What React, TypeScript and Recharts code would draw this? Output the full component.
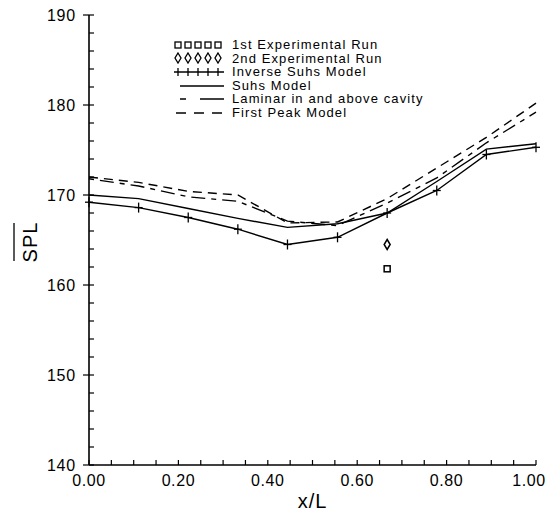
import React from 'react';
import { ComposedChart, Line, Scatter, XAxis, YAxis } from 'recharts';

// ---- data ----
const xL = [0, 0.111, 0.222, 0.333, 0.444, 0.556, 0.667, 0.778, 0.889, 1.0];
const inverseSuhs = [169.2, 168.6, 167.5, 166.2, 164.5, 165.3, 168.0, 170.5, 174.5, 175.3];
const suhs = [170.0, 169.6, 168.5, 167.4, 166.4, 166.8, 168.0, 171.5, 175.1, 175.7];
const laminar = [171.8, 171.0, 169.8, 169.3, 167.1, 166.6, 169.1, 171.9, 175.8, 179.2];
const firstPeak = [172.0, 171.4, 170.4, 170.0, 166.9, 167.0, 169.6, 173.0, 176.4, 180.2];

const expX = [0.667];
const run1 = [161.8];
const run2 = [164.5];

const xTicks = [0, 0.05, 0.1, 0.15, 0.2, 0.25, 0.3, 0.35, 0.4, 0.45, 0.5, 0.55, 0.6, 0.65, 0.7, 0.75, 0.8, 0.85, 0.9, 0.95, 1.0];
const xLabelTicks = [0, 0.2, 0.4, 0.6, 0.8, 1.0];
const yTicks = [140, 142, 144, 146, 148, 150, 152, 154, 156, 158, 160, 162, 164, 166, 168, 170, 172, 174, 176, 178, 180, 182, 184, 186, 188, 190];
const yLabelTicks = [140, 150, 160, 170, 180, 190];

const legendLabels = [
  '1st Experimental Run',
  '2nd Experimental Run',
  'Inverse Suhs Model',
  'Suhs Model',
  'Laminar in and above cavity',
  'First Peak Model',
];

const rows = xL.map((x, i) => ({
  x,
  inverseSuhs: inverseSuhs[i],
  suhs: suhs[i],
  laminar: laminar[i],
  firstPeak: firstPeak[i],
}));
const run1Data = expX.map((x, i) => ({ x, run1: run1[i] }));
const run2Data = expX.map((x, i) => ({ x, run2: run2[i] }));

const FONT = '"Liberation Sans", Arial, sans-serif';
const TICK_MARGIN = 8;
const LAMINAR_DASH = '5 6 14 6';
const PEAK_DASH = '9 6';

const isLabel = (v: number, list: number[]) => list.some((t) => Math.abs(t - v) < 1e-6);

const XTick = (props: any) => {
  const { x, y, payload } = props;
  const axisY = y - TICK_MARGIN;
  const v = payload.value as number;
  const major = isLabel(v, xLabelTicks);
  const lx = v >= 0.999 ? x - 7 : x;
  return (
    <g>
      <line x1={x} x2={x} y1={axisY} y2={axisY - 5} stroke="#000" strokeWidth={1.2} />
      {major && (
        <text x={lx} y={axisY + 10} dy="0.71em" textAnchor="middle" fontFamily={FONT} fontSize={16} letterSpacing={0.6} fill="#000">
          {v.toFixed(2)}
        </text>
      )}
    </g>
  );
};

const YTick = (props: any) => {
  const { x, y, payload } = props;
  const axisX = x + TICK_MARGIN;
  const v = payload.value as number;
  const major = isLabel(v, yLabelTicks);
  return (
    <g>
      <line x1={axisX} x2={axisX + 5} y1={y} y2={y} stroke="#000" strokeWidth={1.2} />
      {major && <line x1={axisX - 6} x2={axisX} y1={y} y2={y} stroke="#000" strokeWidth={1.2} />}
      {major && (
        <text x={axisX - 13} y={y} dy="0.36em" textAnchor="end" fontFamily={FONT} fontSize={16} letterSpacing={0.8} fill="#000">
          {String(v)}
        </text>
      )}
    </g>
  );
};

const PlusDot = (props: any) => {
  const { cx, cy } = props;
  if (cx == null || cy == null) return <g />;
  return (
    <g>
      <line x1={cx - 4} x2={cx + 4} y1={cy} y2={cy} stroke="#000" strokeWidth={1.3} />
      <line x1={cx} x2={cx} y1={cy - 5} y2={cy + 5} stroke="#000" strokeWidth={1.3} />
    </g>
  );
};

const SquareShape = (props: any) => {
  const { cx, cy } = props;
  return <rect x={cx - 3} y={cy - 3} width={6} height={6} fill="none" stroke="#000" strokeWidth={1.5} />;
};

const DiamondShape = (props: any) => {
  const { cx, cy } = props;
  return <path d={`M${cx},${cy - 5} L${cx + 3},${cy} L${cx},${cy + 5} L${cx - 3},${cy} Z`} fill="none" stroke="#000" strokeWidth={1.5} />;
};

const YLabel = (props: any) => {
  const { viewBox } = props;
  const cy = viewBox.y + viewBox.height / 2 + 2;
  const bx = 29;
  return (
    <g>
      <text x={bx} y={cy} transform={`rotate(-90 ${bx} ${cy})`} textAnchor="middle" fontFamily={FONT} fontSize={20} letterSpacing={1} fill="#000">
        SPL
      </text>
      <line x1={6} x2={6} y1={cy - 19} y2={cy + 19} stroke="#000" strokeWidth={1.3} />
    </g>
  );
};

const LegendSample = ({ i }: { i: number }) => {
  const w = 54;
  const h = 12;
  const m = h / 2;
  if (i === 0) {
    return (
      <svg width={w} height={h}>
        {[0, 1, 2, 3, 4].map((k) => (
          <rect key={k} x={3 + k * 10} y={m - 3} width={6} height={6} fill="none" stroke="#000" strokeWidth={1.3} />
        ))}
      </svg>
    );
  }
  if (i === 1) {
    return (
      <svg width={w} height={h}>
        {[0, 1, 2, 3, 4].map((k) => {
          const cx = 6 + k * 10;
          return <path key={k} d={`M${cx},${m - 5} L${cx + 3},${m} L${cx},${m + 5} L${cx - 3},${m} Z`} fill="none" stroke="#000" strokeWidth={1.3} />;
        })}
      </svg>
    );
  }
  if (i === 2) {
    return (
      <svg width={w} height={h}>
        <line x1={2} x2={52} y1={m} y2={m} stroke="#000" strokeWidth={1.3} />
        {[0, 1, 2, 3, 4].map((k) => (
          <line key={k} x1={6 + k * 10} x2={6 + k * 10} y1={m - 4} y2={m + 4} stroke="#000" strokeWidth={1.3} />
        ))}
      </svg>
    );
  }
  if (i === 3) {
    return (
      <svg width={w} height={h}>
        <line x1={8} x2={52} y1={m} y2={m} stroke="#000" strokeWidth={1.5} />
      </svg>
    );
  }
  if (i === 4) {
    return (
      <svg width={w} height={h}>
        <line x1={8} x2={14} y1={m} y2={m} stroke="#000" strokeWidth={1.5} />
        <line x1={28} x2={52} y1={m} y2={m} stroke="#000" strokeWidth={1.5} />
      </svg>
    );
  }
  return (
    <svg width={w} height={h}>
      <line x1={4} x2={14} y1={m} y2={m} stroke="#000" strokeWidth={1.5} />
      <line x1={22} x2={32} y1={m} y2={m} stroke="#000" strokeWidth={1.5} />
      <line x1={40} x2={50} y1={m} y2={m} stroke="#000" strokeWidth={1.5} />
    </svg>
  );
};

const LegendBox = () => (
  <div
    style={{
      position: 'absolute',
      left: 164,
      top: 30,
      fontFamily: FONT,
      fontSize: 13,
      letterSpacing: 1.1,
      color: '#000',
      pointerEvents: 'none',
    }}
  >
    {legendLabels.map((label, i) => (
      <div key={label} style={{ display: 'flex', alignItems: 'center', height: 13.6, lineHeight: '13.6px', whiteSpace: 'nowrap' }}>
        <LegendSample i={i} />
        <span style={{ marginLeft: 6 }}>{label}</span>
      </div>
    ))}
  </div>
);

export default function App() {
  return (
    <div style={{ position: 'relative', width: 546, height: 500 }}>
      <style>{'.recharts-surface { overflow: visible; } .recharts-wrapper { overflow: visible; }'}</style>
      <ComposedChart
        width={546}
        height={500}
        data={rows}
        margin={{ top: 7, right: 18, left: 0, bottom: 0 }}
      >
        <XAxis
          dataKey="x"
          type="number"
          domain={[0, 1]}
          ticks={xTicks}
          interval={0}
          tick={<XTick />}
          tickLine={false}
          tickSize={0}
          tickMargin={TICK_MARGIN}
          axisLine={{ stroke: '#000', strokeWidth: 1.6 }}
          height={43}
          label={{ value: 'x/L', position: 'insideBottom', offset: 0, fontFamily: FONT, fontSize: 20, fill: '#000', letterSpacing: 1 }}
        />
        <YAxis
          type="number"
          domain={[140, 190]}
          ticks={yTicks}
          interval={0}
          tick={<YTick />}
          tickLine={false}
          tickSize={0}
          tickMargin={TICK_MARGIN}
          axisLine={{ stroke: '#000', strokeWidth: 1.6 }}
          width={81}
          label={<YLabel />}
        />
        <Line dataKey="inverseSuhs" name="Inverse Suhs Model" stroke="#000" strokeWidth={1.4} dot={<PlusDot />} isAnimationActive={false} />
        <Line dataKey="suhs" name="Suhs Model" stroke="#000" strokeWidth={1.4} dot={false} isAnimationActive={false} />
        <Line dataKey="laminar" name="Laminar in and above cavity" stroke="#000" strokeWidth={1.4} strokeDasharray={LAMINAR_DASH} dot={false} isAnimationActive={false} />
        <Line dataKey="firstPeak" name="First Peak Model" stroke="#000" strokeWidth={1.4} strokeDasharray={PEAK_DASH} dot={false} isAnimationActive={false} />
        <Scatter data={run1Data} dataKey="run1" name="1st Experimental Run" shape={<SquareShape />} isAnimationActive={false} />
        <Scatter data={run2Data} dataKey="run2" name="2nd Experimental Run" shape={<DiamondShape />} isAnimationActive={false} />
      </ComposedChart>
      <LegendBox />
    </div>
  );
}
